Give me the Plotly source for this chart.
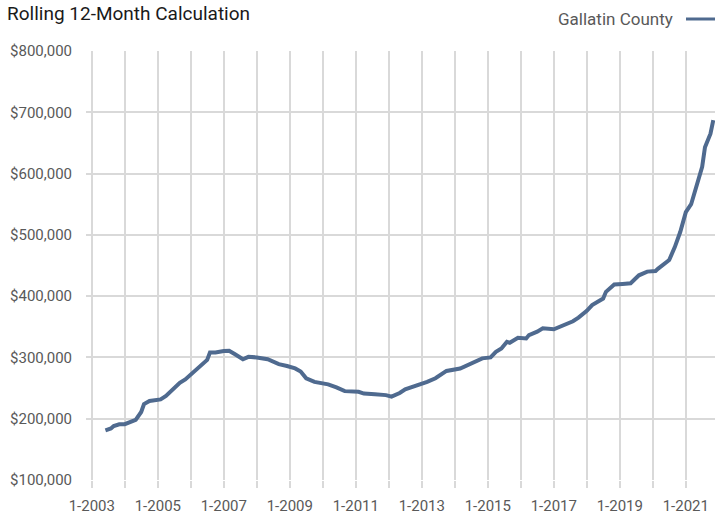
import plotly.graph_objects as go

title_text = "Rolling 12-Month Calculation"
series_name = "Gallatin County"

months = [
    "2003-06", "2003-08", "2003-09", "2003-11", "2004-01", "2004-03", "2004-05", "2004-07",
    "2004-08", "2004-10", "2004-12", "2005-02", "2005-04", "2005-06", "2005-09", "2005-11",
    "2006-02", "2006-04", "2006-07", "2006-08", "2006-10", "2007-01", "2007-03", "2007-05",
    "2007-08", "2007-10", "2008-01", "2008-05", "2008-07", "2008-09", "2008-12", "2009-03",
    "2009-05", "2009-07", "2009-10", "2010-01", "2010-03", "2010-06", "2010-09", "2011-02",
    "2011-04", "2011-08", "2011-12", "2012-02", "2012-05", "2012-07", "2012-10", "2013-03",
    "2013-06", "2013-10", "2014-03", "2014-05", "2014-09", "2014-11", "2015-02", "2015-04",
    "2015-06", "2015-08", "2015-09", "2015-12", "2016-03", "2016-04", "2016-07", "2016-09",
    "2017-01", "2017-05", "2017-08", "2017-10", "2018-01", "2018-03", "2018-07", "2018-08",
    "2018-11", "2019-02", "2019-05", "2019-08", "2019-11", "2020-02", "2020-03", "2020-07",
    "2020-09", "2020-11", "2021-01", "2021-03", "2021-05", "2021-07", "2021-08", "2021-10",
    "2021-11",
]
values = [
    181000, 184000, 188000, 191000, 191000, 194500, 198000, 211000,
    224000, 229000, 230000, 231500, 237000, 245500, 258500, 264000,
    276000, 284500, 296000, 308000, 308000, 310500, 311000, 305500,
    297000, 301000, 300000, 297000, 293000, 289000, 286000, 282000,
    277000, 266000, 260000, 258500, 256000, 251000, 245000, 244000,
    241000, 240000, 238500, 236000, 242000, 248000, 252000, 260000,
    266000, 278000, 282000, 286000, 294500, 298500, 300000, 309000,
    314500, 325500, 324000, 332000, 331000, 336500, 342000, 347500,
    346000, 353000, 359000, 365000, 376000, 385500, 396000, 407000,
    419000, 420000, 421000, 434000, 440000, 441000, 445000, 459000,
    480000, 505000, 537000, 550000, 580000, 611000, 643000, 665000,
    687000,
]

y_ticks = [100000, 200000, 300000, 400000, 500000, 600000, 700000, 800000]

line_color = "#4f6a8f"
grid_color = "#d9d9d9"
label_color = "#595959"
font_family = "Roboto, Arial, sans-serif"

W, H = 715, 515
ML, MT, MB = 86, 51, 35
PW, PH = W - ML, H - MT - MB

fig = go.Figure()
fig.add_trace(go.Scatter(
    x=[m + "-01" for m in months],
    y=values,
    mode="lines",
    name=series_name,
    line=dict(color=line_color, width=4),
    showlegend=False,
))

leg_y = 1 + (MT - 19) / PH

fig.update_layout(
    width=W, height=H,
    margin=dict(l=ML, r=0, t=MT, b=MB, pad=0),
    paper_bgcolor="white",
    plot_bgcolor="white",
    font=dict(family=font_family, color=label_color),
    title=dict(
        text=title_text,
        x=7 / W, xanchor="left", xref="container",
        y=1 - 13 / H, yanchor="middle", yref="container",
        font=dict(size=19, color="#1a1a1a", family=font_family),
        automargin=False,
    ),
    xaxis=dict(
        type="date",
        range=["2002-10-29", "2021-11-20"],
        tick0="2003-01-01",
        dtick="M24",
        tickformat="%-m-%Y",
        showgrid=True, gridcolor=grid_color, gridwidth=1.5,
        ticks="outside", ticklen=7, tickcolor=grid_color, tickwidth=1.5,
        minor=dict(dtick="M12", tick0="2003-01-01", showgrid=True, gridcolor=grid_color,
                   gridwidth=1.5, ticks="outside", ticklen=7, tickcolor=grid_color, tickwidth=1.5),
        showline=False, zeroline=False,
        tickfont=dict(size=15, color=label_color),
        ticklabelstandoff=5,
        automargin=False,
    ),
    yaxis=dict(
        range=[100000, 800000],
        tickvals=y_ticks,
        tickformat="$,.0f",
        showgrid=True, gridcolor=grid_color, gridwidth=1.5,
        showline=False, zeroline=False,
        ticks="",
        tickfont=dict(size=15, color=label_color),
        ticklabelstandoff=13,
        automargin=False,
    ),
    annotations=[dict(
        text=series_name, xref="paper", yref="paper",
        x=(675 - ML) / PW, xanchor="right",
        y=leg_y, yanchor="middle",
        showarrow=False, font=dict(size=17, color=label_color, family=font_family),
    )],
    shapes=[dict(
        type="line", xref="paper", yref="paper",
        x0=(686 - ML) / PW, x1=1.0,
        y0=leg_y, y1=leg_y,
        line=dict(color=line_color, width=3),
    )],
)

fig.write_html(
    "out.html",
    config={"displayModeBar": False},
    post_script="document.body.style.margin='0';document.body.style.overflow='hidden';",
)
